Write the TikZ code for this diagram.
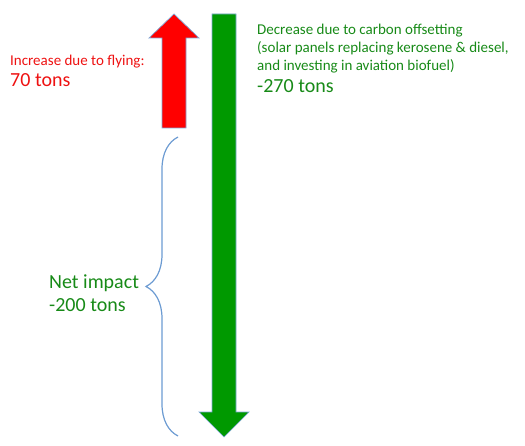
\documentclass[tikz,border=0pt]{standalone}
\usepackage{fontspec}
\setmainfont{Carlito}
\usepackage{tikz}
\usetikzlibrary{decorations.pathreplacing,positioning}
\definecolor{upred}{HTML}{FF0000}
\definecolor{downgreen}{HTML}{009900}
\definecolor{txtred}{HTML}{EE1111}
\definecolor{txtgreen}{HTML}{178A17}
\definecolor{rimblue}{HTML}{7FA8D8}
\definecolor{braceblue}{HTML}{6C9BD2}
\begin{document}
\begin{tikzpicture}[x=1pt,y=-1pt,
lbl/.style={inner sep=0pt,anchor=base west,align=left,font=\fontsize{15}{18}\selectfont},
val/.style={inner sep=0pt,anchor=base west,font=\fontsize{20}{22}\selectfont},
bar/.style={draw=rimblue,line width=.7pt,line join=miter},
netbrace/.style={draw=braceblue,line width=1.2pt,decorate,decoration={brace,amplitude=32pt}}]
\useasboundingbox (0,0) rectangle (525,446);
% arrows
\filldraw[bar,fill=upred](162,128)--(162,38)--(149,38)--(174,14)--(199,38)--(186,38)--(186,128)--cycle;
\filldraw[bar,fill=downgreen](212,14)--(236,14)--(236,412)--(249,412)--(224,437)--(199,412)--(212,412)--cycle;
% brace
\coordinate(bt) at (178,137);
\coordinate(bb) at (178,436);
\draw[netbrace](bb)--(bt);
% labels
\node[lbl,text=txtred](incr) at (10,66){Increase due to flying:};
\node[val,text=txtred](incrval) at (10,87){70 tons};
\node[lbl,text=txtgreen](decr) at (257,71){Decrease due to carbon offsetting\\(solar panels replacing kerosene \& diesel,\\and investing in aviation biofuel)};
\node[val,text=txtgreen](decrval) at (257,93){-270 tons};
\node[val,text=txtgreen](net) at (49,289){Net impact};
\node[val,text=txtgreen](netval) at (49,312){-200 tons};
\end{tikzpicture}
\end{document}
